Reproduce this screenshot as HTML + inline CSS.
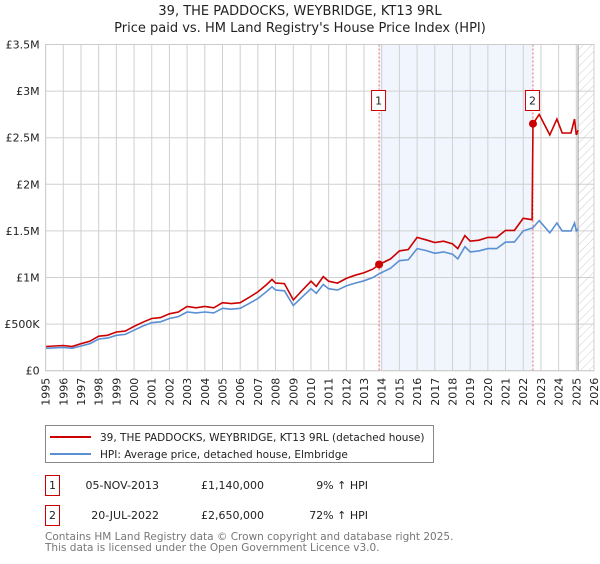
<!DOCTYPE html>
<html><head><meta charset="utf-8"><style>
body{margin:0;background:#fff;font-family:"DejaVu Sans","Liberation Sans",sans-serif;}
svg text{font-family:"DejaVu Sans","Liberation Sans",sans-serif;}
</style></head><body>
<svg id="chart" width="600" height="560" xmlns="http://www.w3.org/2000/svg">
<defs><pattern id="hatch" width="6" height="6" patternUnits="userSpaceOnUse" patternTransform="rotate(45)"><line x1="0" y1="0" x2="0" y2="6" stroke="#ccc" stroke-width="1"/></pattern></defs>
<text x="300" y="15" text-anchor="middle" font-size="13" fill="#222">39, THE PADDOCKS, WEYBRIDGE, KT13 9RL</text>
<text x="300" y="32" text-anchor="middle" font-size="13" fill="#222">Price paid vs. HM Land Registry's House Price Index (HPI)</text>
<g id="plot"></g>
<g>
<rect x="45.5" y="425.5" width="388" height="37" fill="#fff" stroke="#888"/>
<line x1="50" y1="437" x2="91" y2="437" stroke="#cc0000" stroke-width="2"/>
<text x="100" y="441" font-size="10.5" fill="#222">39, THE PADDOCKS, WEYBRIDGE, KT13 9RL (detached house)</text>
<line x1="50" y1="454" x2="91" y2="454" stroke="#5b8fd4" stroke-width="2"/>
<text x="100" y="458" font-size="10.5" fill="#222">HPI: Average price, detached house, Elmbridge</text>
</g>
<g font-size="11" fill="#222">
<rect x="45.5" y="475.5" width="14" height="20" fill="#fff" stroke="#cc0000"/>
<text x="52.5" y="489" text-anchor="middle">1</text>
<text x="159" y="489" text-anchor="end">05-NOV-2013</text>
<text x="264" y="489" text-anchor="end">£1,140,000</text>
<text x="368" y="489" text-anchor="end">9% ↑ HPI</text>
<rect x="45.5" y="505.5" width="14" height="20" fill="#fff" stroke="#cc0000"/>
<text x="52.5" y="519" text-anchor="middle">2</text>
<text x="159" y="519" text-anchor="end">20-JUL-2022</text>
<text x="264" y="519" text-anchor="end">£2,650,000</text>
<text x="368" y="519" text-anchor="end">72% ↑ HPI</text>
</g>
<text x="45" y="540" font-size="10.5" fill="#777">Contains HM Land Registry data © Crown copyright and database right 2025.</text>
<text x="45" y="551" font-size="10.5" fill="#777">This data is licensed under the Open Government Licence v3.0.</text>
</svg>
<script>
const years=[1995,1996,1996.5,1997,1997.5,1998,1998.5,1999,1999.5,2000,2000.5,2001,2001.5,2002,2002.5,2003,2003.5,2004,2004.5,2005,2005.5,2006,2006.5,2007,2007.5,2007.8,2008,2008.5,2009,2009.5,2010,2010.3,2010.7,2011,2011.5,2012,2012.5,2013,2013.5,2013.85,2014.5,2015,2015.5,2016,2016.5,2017,2017.5,2018,2018.3,2018.7,2019,2019.5,2020,2020.5,2021,2021.5,2022,2022.5,2022.55,2022.9,2023.5,2023.9,2024.2,2024.7,2024.9,2025.0,2025.1];
const hpiValues=[0.24,0.25,0.24,0.265,0.29,0.34,0.35,0.38,0.39,0.435,0.48,0.515,0.525,0.56,0.58,0.63,0.62,0.63,0.62,0.67,0.66,0.67,0.72,0.775,0.85,0.9,0.865,0.857,0.70,0.79,0.88,0.83,0.925,0.88,0.865,0.91,0.94,0.965,1.0,1.04,1.1,1.18,1.19,1.31,1.29,1.26,1.275,1.25,1.2,1.33,1.275,1.285,1.31,1.31,1.38,1.38,1.5,1.53,1.535,1.61,1.48,1.585,1.5,1.5,1.585,1.5,1.525];
const priceValues=[0.26,0.27,0.26,0.29,0.315,0.37,0.38,0.415,0.425,0.475,0.52,0.56,0.57,0.61,0.63,0.69,0.675,0.69,0.675,0.73,0.72,0.73,0.785,0.845,0.925,0.98,0.94,0.935,0.76,0.86,0.96,0.905,1.01,0.96,0.94,0.99,1.025,1.05,1.09,1.14,1.2,1.285,1.3,1.43,1.405,1.375,1.39,1.36,1.31,1.45,1.39,1.40,1.43,1.43,1.505,1.505,1.635,1.62,2.65,2.75,2.53,2.7,2.55,2.55,2.7,2.53,2.58];
const yTicks=[0,0.5,1,1.5,2,2.5,3,3.5];
const yTickLabels=["£0","£500K","£1M","£1.5M","£2M","£2.5M","£3M","£3.5M"];
const sales=[[2013.85,1.14,"1"],[2022.55,2.65,"2"]];
const NS="http://www.w3.org/2000/svg";
const X0=45.6,X1=594,Y0=370.7,Y1=44.5;
const xs=y=>X0+(y-1995)*(X1-X0)/31;
const ys=v=>Y0-v*(Y0-Y1)/3.5;
const g=document.getElementById('plot');
function mk(t,a,p){const e=document.createElementNS(NS,t);for(const k in a)e.setAttribute(k,a[k]);(p||g).appendChild(e);return e;}
let e;
e=mk('rect',{x:xs(2013.85),y:Y1,width:xs(2022.55)-xs(2013.85),height:Y0-Y1,fill:'#eef3fc',opacity:0.8});


e=mk('rect',{x:xs(2025.1),y:Y1,width:X1-xs(2025.1),height:Y0-Y1,fill:'url(#hatch)'});


for(let yr=1995;yr<=2026;yr++){
 e=mk('line',{x1:xs(yr),x2:xs(yr),y1:Y1,y2:Y0,stroke:'#d0d0d0','stroke-width':1});
 
 
 e=mk('text',{x:0,y:0,transform:`translate(${xs(yr)+4},${Y0+35}) rotate(-90)`,'font-size':11,fill:'#222'});
 e.textContent=yr;
 
 
}
yTicks.forEach((v,i)=>{
 e=mk('line',{x1:X0,x2:X1,y1:ys(v),y2:ys(v),stroke:'#d0d0d0','stroke-width':1});
 
 
 e=mk('text',{x:X0-6,y:ys(v)+4,'text-anchor':'end','font-size':11,fill:'#222'});
 e.textContent=yTickLabels[i];
 
 
});
e=mk('line',{x1:xs(2025.1),x2:xs(2025.1),y1:Y1,y2:Y0,stroke:'#999','stroke-width':1});


sales.forEach(s=>{
 e=mk('line',{x1:xs(s[0]),x2:xs(s[0]),y1:Y1,y2:Y0,stroke:'#ee6666','stroke-width':1,'stroke-dasharray':'2,2'});
 
 
});
const pts=a=>a.map((v,i)=>xs(years[i]).toFixed(1)+','+ys(v).toFixed(1)).join(' ');
e=mk('polyline',{points:pts(hpiValues),fill:'none',stroke:'#5b8fd4','stroke-width':1.6});


e=mk('polyline',{points:pts(priceValues),fill:'none',stroke:'#cc0000','stroke-width':1.6});


sales.forEach(s=>{
 e=mk('circle',{cx:xs(s[0]),cy:ys(s[1]),r:4,fill:'#cc0000'});
 
 
 e=mk('rect',{x:xs(s[0])-7.5,y:90.5,width:14,height:20,fill:'#fff',stroke:'#cc0000'});
 
 
 e=mk('text',{x:xs(s[0])-0.5,y:104.5,'text-anchor':'middle','font-size':11,fill:'#222'});
 e.textContent=s[2];
 
 
});
e=mk('rect',{x:X0,y:Y1,width:X1-X0,height:Y0-Y1,fill:'none',stroke:'#ccc'});


</script>
</body></html>
